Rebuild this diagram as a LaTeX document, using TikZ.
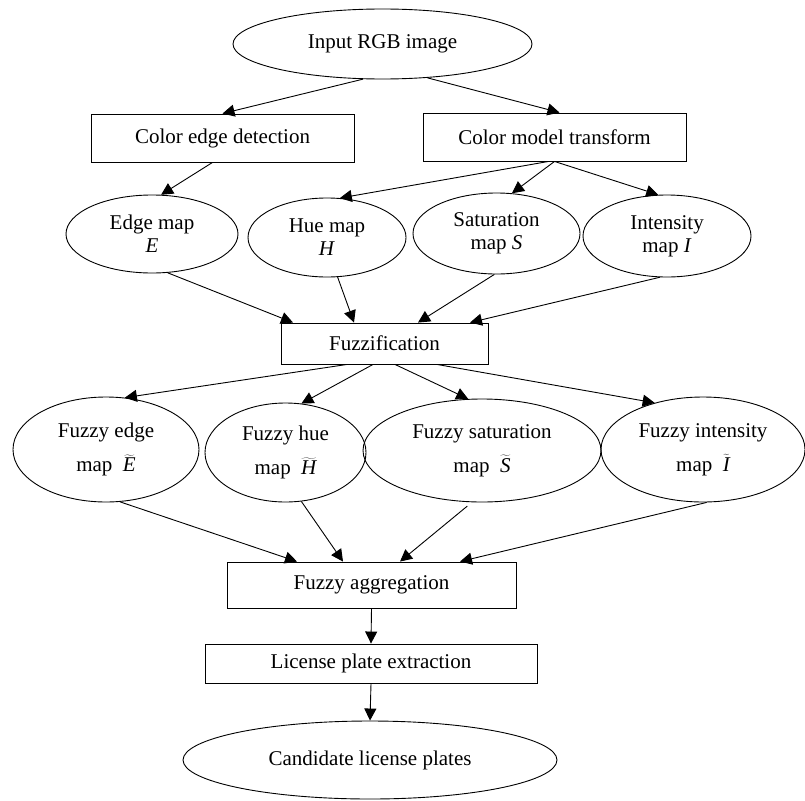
\documentclass[tikz,border=0pt]{standalone}
\usepackage{fontspec}
\setmainfont{Liberation Serif}
\usetikzlibrary{shapes.geometric,arrows.meta,calc}
\tikzset{
  oval/.style={draw,ellipse,line width=0.9pt,inner sep=0pt,align=center},
  stage/.style={draw,rectangle,line width=0.9pt,inner sep=0pt},
  flow/.style={line width=0.9pt,-{Triangle[length=12pt,width=12pt]}}
}
\newcommand{\fuzzymap}[1]{map\enspace$\widetilde{\mathit{#1}}$}
\begin{document}
\begin{tikzpicture}[x=1pt,y=-1pt,font=\fontsize{21}{23}\selectfont]
            \useasboundingbox (0,0) rectangle (805,800);

            \node[oval,minimum width=299pt,minimum height=70pt] (in) at (382.5,44) {Input RGB image};

            \node[stage,minimum width=263pt,minimum height=48pt] (ced) at (222.5,138) {Color edge detection};
            \node[stage,minimum width=263pt,minimum height=48pt] (cmt) at (554.5,137) {Color model transform};

            \node[oval,minimum width=172pt,minimum height=78pt] (edge) at (152,234) {Edge map\\\textit{E}};
            \node[oval,minimum width=158pt,minimum height=79pt] (hue) at (327,237.5) {Hue map\\\textit{H}};
            \node[oval,minimum width=167pt,minimum height=81pt] (sat) at (496.5,233.5) {Saturation\\map \textit{S}};
            \node[oval,minimum width=168pt,minimum height=82pt] (int) at (667,236) {Intensity\\map \textit{I}};

            \node[stage,minimum width=207pt,minimum height=41pt] (fz) at (384.5,343.5) {Fuzzification};

            \node[oval,minimum width=186pt,minimum height=105pt] (fe) at (106,449.5) {Fuzzy edge\\[11pt]\fuzzymap{E}};
            \node[oval,minimum width=161pt,minimum height=99pt] (fh) at (285.5,452.5) {Fuzzy hue\\[11pt]\fuzzymap{H}};
            \node[oval,minimum width=238pt,minimum height=103pt] (fs) at (482,450.5) {Fuzzy saturation\\[11pt]\fuzzymap{S}};
            \node[oval,minimum width=204pt,minimum height=105pt] (fi) at (703,449.5) {Fuzzy intensity\\[11pt]\fuzzymap{I}};

            \node[stage,minimum width=289pt,minimum height=46pt] (fa) at (371.5,585) {Fuzzy aggregation};
            \node[stage,minimum width=332pt,minimum height=39pt] (lpe) at (371,663.5) {License plate extraction};
            \node[oval,minimum width=374pt,minimum height=78pt] (cand) at (370,760) {Candidate license plates};

            \draw[flow] (in.241) -- (ced.north);
            \draw[flow] (in.-37) -- ($(cmt.north)+(5,0)$);
            \draw[flow] ($(ced.south)+(-10,0)$) -- (edge.77);
            \draw[flow] ($(cmt.south)+(-6,0)$) -- (hue.72);
            \draw[flow] (cmt.south) -- (sat.69);
            \draw[flow] (cmt.south) -- (int.102);

            \draw[flow] (edge.-68) -- ($(fz.north)+(-91.5,0)$);
            \draw[flow] (hue.-75) -- ($(fz.north)+(-30.5,0)$);
            \draw[flow] (sat.-93) -- ($(fz.north)+(33.5,0)$);
            \draw[flow] (int.-100) -- ($(fz.north)+(85.5,0)$);

            \draw[flow] ($(fz.south)+(-37.5,0)$) -- (fe.70);
            \draw[flow] ($(fz.south)+(-11.5,0)$) -- (fh.72);
            \draw[flow] ($(fz.south)+(10.5,0)$) -- (fs.105);
            \draw[flow] ($(fz.south)+(52.5,0)$) -- (fi.136);

            \draw[flow] (fe.-75) -- ($(fa.north)+(-74.5,0)$);
            \draw[flow] (fh.-72) -- ($(fa.north)+(-28.5,0)$);
            \draw[flow,shorten <=6pt] (fs.-101) -- ($(fa.north)+(28.5,0)$);
            \draw[flow] (fi.-86) -- ($(fa.north)+(88.5,0)$);

            \draw[flow] (fa.south) -- (lpe.north);
            \draw[flow] (lpe.south) -- (cand.north);
\end{tikzpicture}
\end{document}
